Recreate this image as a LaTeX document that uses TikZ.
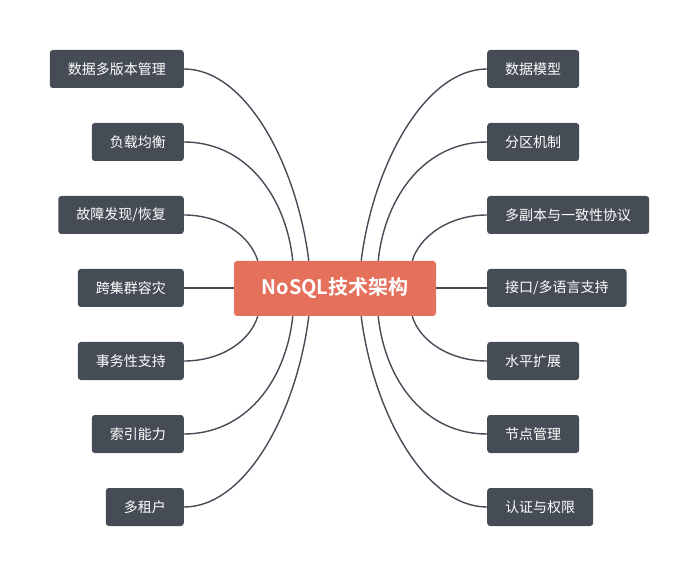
\documentclass[tikz,border=0pt]{standalone}
\usepackage{fontspec}
\setmainfont{Noto Sans CJK SC}[BoldFont={Noto Sans CJK SC Bold}]
\definecolor{dk}{HTML}{454C56}
\definecolor{hubc}{HTML}{E5705C}
\tikzset{
  leaf/.style={fill=dk, text=white, rounded corners=3pt, minimum height=38pt, inner xsep=18pt, inner ysep=0pt, font=\fontsize{14}{16}\selectfont},
  hub/.style={fill=hubc, text=white, rounded corners=3pt, minimum width=202pt, minimum height=55pt, inner sep=0pt, font=\bfseries\fontsize{20}{24}\selectfont},
  link/.style={draw=dk, line width=1.4pt}
}
\begin{document}
\begin{tikzpicture}[x=1pt,y=-1pt]
\useasboundingbox (0,0) rectangle (699,577);
\node[hub] (c) at (335,288.5) {NoSQL技术架构};
% left
\node[leaf, anchor=east] (l1) at (184,69) {数据多版本管理};
\node[leaf, anchor=east] (l2) at (184,142) {负载均衡};
\node[leaf, anchor=east] (l3) at (184,215) {故障发现/恢复};
\node[leaf, anchor=east] (l4) at (184,288) {跨集群容灾};
\node[leaf, anchor=east] (l5) at (184,361) {事务性支持};
\node[leaf, anchor=east] (l6) at (184,434) {索引能力};
\node[leaf, anchor=east] (l7) at (184,507) {多租户};
% right
\node[leaf, anchor=west] (r1) at (487,69) {数据模型};
\node[leaf, anchor=west] (r2) at (487,142) {分区机制};
\node[leaf, anchor=west] (r3) at (487,215) {多副本与一致性协议};
\node[leaf, anchor=west] (r4) at (487,288) {接口/多语言支持};
\node[leaf, anchor=west] (r5) at (487,361) {水平扩展};
\node[leaf, anchor=west] (r6) at (487,434) {节点管理};
\node[leaf, anchor=west] (r7) at (487,507) {认证与权限};
% left links
\draw[link] (l1.east) .. controls +(62,0) and +(-12,-96) .. ([xshift=75pt]c.north west);
\draw[link] (l2.east) .. controls +(61,0) and +(-7,-66) .. ([xshift=59pt]c.north west);
\draw[link] (l3.east) .. controls +(36,0) and +(-8,-26) .. ([xshift=24pt]c.north west);
\draw[link] (l4.east) -- (l4.east -| c.west);
\draw[link] (l5.east) .. controls +(36,0) and +(-8,26) .. ([xshift=24pt]c.south west);
\draw[link] (l6.east) .. controls +(61,0) and +(-7,66) .. ([xshift=59pt]c.south west);
\draw[link] (l7.east) .. controls +(62,0) and +(-12,96) .. ([xshift=75pt]c.south west);
% right links
\draw[link] (r1.west) .. controls +(-62,0) and +(12,-96) .. ([xshift=-75pt]c.north east);
\draw[link] (r2.west) .. controls +(-61,0) and +(7,-66) .. ([xshift=-58pt]c.north east);
\draw[link] (r3.west) .. controls +(-36,0) and +(8,-26) .. ([xshift=-24pt]c.north east);
\draw[link] (r4.west) -- (r4.west -| c.east);
\draw[link] (r5.west) .. controls +(-36,0) and +(8,26) .. ([xshift=-24pt]c.south east);
\draw[link] (r6.west) .. controls +(-61,0) and +(7,66) .. ([xshift=-58pt]c.south east);
\draw[link] (r7.west) .. controls +(-62,0) and +(12,96) .. ([xshift=-75pt]c.south east);
\end{tikzpicture}
\end{document}
